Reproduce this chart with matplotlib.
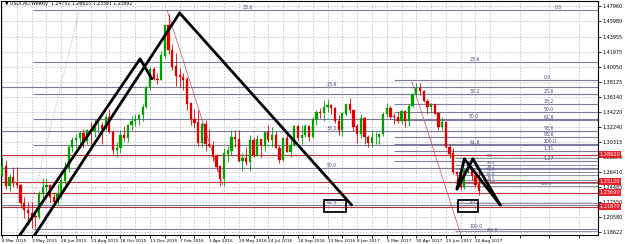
import numpy as np
import matplotlib
matplotlib.use("Agg")
import matplotlib.pyplot as plt

# weekly USDCAD bars, first bar = week of 8 Mar 2015
opens = [1.2600, 1.2720, 1.2460, 1.2570, 1.2500, 1.2470, 1.2240, 1.2150, 1.2110, 1.2070,
         1.2060, 1.2360, 1.2440, 1.2470, 1.2310, 1.2250, 1.2370, 1.2530, 1.2690, 1.2960,
         1.3050, 1.3080, 1.3140, 1.3040, 1.3180, 1.3170, 1.3250, 1.3250, 1.3200, 1.3350,
         1.3160, 1.2930, 1.2950, 1.3120, 1.3080, 1.3250, 1.3300, 1.3330, 1.3380, 1.3480,
         1.3740, 1.3980, 1.3850, 1.3840, 1.4150, 1.4540, 1.4220, 1.4010, 1.3890, 1.3870,
         1.3840, 1.3530, 1.3330, 1.3280, 1.3020, 1.3260, 1.3000, 1.2980, 1.2840, 1.2710,
         1.2550, 1.2880, 1.2920, 1.3090, 1.3070, 1.2790, 1.2820, 1.2770, 1.3050, 1.2850,
         1.3060, 1.2980, 1.3160, 1.3050, 1.3120, 1.2950, 1.2800, 1.3080, 1.2900, 1.2990,
         1.3240, 1.3080, 1.3120, 1.3240, 1.3090, 1.3330, 1.3420, 1.3410, 1.3480, 1.3510,
         1.3470, 1.3300, 1.3190, 1.3400, 1.3520, 1.3440, 1.3230, 1.3130, 1.3340, 1.3090,
         1.3020, 1.3090, 1.3090, 1.3130, 1.3390, 1.3470, 1.3360, 1.3350, 1.3300, 1.3430,
         1.3300, 1.3500, 1.3650, 1.3730, 1.3690, 1.3560, 1.3480, 1.3520, 1.3400, 1.3220,
         1.3290, 1.2960, 1.2880, 1.2640, 1.2620, 1.2440, 1.2660, 1.2680, 1.2590, 1.2475]
highs = [1.2830, 1.2800, 1.2620, 1.2700, 1.2700, 1.2480, 1.2320, 1.2250, 1.2250, 1.2150,
         1.2390, 1.2560, 1.2560, 1.2480, 1.2380, 1.2480, 1.2570, 1.2770, 1.2990, 1.3100,
         1.3130, 1.3170, 1.3200, 1.3200, 1.3290, 1.3330, 1.3310, 1.3290, 1.3390, 1.3460,
         1.3180, 1.3030, 1.3190, 1.3240, 1.3260, 1.3370, 1.3390, 1.3400, 1.3520, 1.3760,
         1.4000, 1.4000, 1.3920, 1.4210, 1.4550, 1.4690, 1.4300, 1.4180, 1.3990, 1.3930,
         1.3880, 1.3540, 1.3460, 1.3450, 1.3290, 1.3310, 1.3200, 1.3040, 1.2870, 1.2730,
         1.2950, 1.2980, 1.3190, 1.3190, 1.3190, 1.2890, 1.2960, 1.3120, 1.3090, 1.3120,
         1.3070, 1.3170, 1.3250, 1.3220, 1.3170, 1.2990, 1.3100, 1.3150, 1.3070, 1.3250,
         1.3250, 1.3250, 1.3270, 1.3250, 1.3360, 1.3440, 1.3470, 1.3580, 1.3590, 1.3530,
         1.3480, 1.3380, 1.3420, 1.3520, 1.3600, 1.3450, 1.3260, 1.3390, 1.3350, 1.3120,
         1.3190, 1.3160, 1.3150, 1.3420, 1.3540, 1.3500, 1.3410, 1.3420, 1.3450, 1.3440,
         1.3520, 1.3660, 1.3790, 1.3790, 1.3700, 1.3590, 1.3540, 1.3530, 1.3410, 1.3360,
         1.3300, 1.3000, 1.2950, 1.2650, 1.2640, 1.2680, 1.2780, 1.2700, 1.2630, 1.2663]
lows = [1.2580, 1.2420, 1.2390, 1.2440, 1.2430, 1.2180, 1.2050, 1.1950, 1.1920, 1.1920,
        1.2030, 1.2300, 1.2340, 1.2250, 1.2190, 1.2220, 1.2300, 1.2490, 1.2640, 1.2900,
        1.2950, 1.2990, 1.2950, 1.3000, 1.3010, 1.3100, 1.3150, 1.3010, 1.3190, 1.3150,
        1.2880, 1.2830, 1.2890, 1.3040, 1.3030, 1.3180, 1.3240, 1.3250, 1.3300, 1.3470,
        1.3710, 1.3830, 1.3780, 1.3840, 1.4120, 1.4170, 1.3960, 1.3760, 1.3750, 1.3700,
        1.3450, 1.3250, 1.3210, 1.2980, 1.2970, 1.2920, 1.2960, 1.2780, 1.2650, 1.2460,
        1.2460, 1.2770, 1.2860, 1.2960, 1.2770, 1.2650, 1.2730, 1.2650, 1.2830, 1.2850,
        1.2830, 1.2920, 1.3030, 1.2960, 1.2950, 1.2760, 1.2790, 1.2900, 1.2840, 1.2980,
        1.3040, 1.3000, 1.3090, 1.3040, 1.3080, 1.3250, 1.3340, 1.3300, 1.3420, 1.3390,
        1.3280, 1.3120, 1.3110, 1.3380, 1.3410, 1.3170, 1.3020, 1.3080, 1.3010, 1.2970,
        1.2970, 1.3000, 1.3000, 1.3110, 1.3350, 1.3330, 1.3260, 1.3280, 1.3260, 1.3230,
        1.3240, 1.3480, 1.3630, 1.3640, 1.3550, 1.3390, 1.3410, 1.3390, 1.3180, 1.3180,
        1.2950, 1.2820, 1.2620, 1.2510, 1.2410, 1.2420, 1.2630, 1.2540, 1.2450, 1.2339]
closes = [1.2720, 1.2460, 1.2570, 1.2500, 1.2470, 1.2240, 1.2150, 1.2110, 1.2070, 1.2060,
          1.2360, 1.2440, 1.2470, 1.2310, 1.2250, 1.2370, 1.2530, 1.2690, 1.2960, 1.3050,
          1.3080, 1.3140, 1.3040, 1.3180, 1.3170, 1.3250, 1.3250, 1.3200, 1.3350, 1.3160,
          1.2930, 1.2950, 1.3120, 1.3080, 1.3250, 1.3300, 1.3330, 1.3380, 1.3480, 1.3740,
          1.3980, 1.3850, 1.3840, 1.4150, 1.4540, 1.4220, 1.4010, 1.3890, 1.3870, 1.3840,
          1.3530, 1.3330, 1.3280, 1.3020, 1.3260, 1.3000, 1.2980, 1.2840, 1.2710, 1.2550,
          1.2880, 1.2920, 1.3090, 1.3070, 1.2790, 1.2820, 1.2770, 1.3050, 1.2850, 1.3060,
          1.2980, 1.3160, 1.3050, 1.3120, 1.2950, 1.2800, 1.3080, 1.2900, 1.2990, 1.3240,
          1.3080, 1.3120, 1.3240, 1.3090, 1.3330, 1.3420, 1.3410, 1.3480, 1.3510, 1.3470,
          1.3300, 1.3190, 1.3400, 1.3520, 1.3440, 1.3230, 1.3130, 1.3340, 1.3090, 1.3020,
          1.3090, 1.3090, 1.3130, 1.3390, 1.3470, 1.3360, 1.3350, 1.3300, 1.3430, 1.3300,
          1.3500, 1.3650, 1.3730, 1.3690, 1.3560, 1.3480, 1.3520, 1.3400, 1.3220, 1.3290,
          1.2960, 1.2880, 1.2640, 1.2620, 1.2440, 1.2660, 1.2680, 1.2590, 1.2475, 1.2399]

date_labels = ["8 Mar 2015", "3 May 2015", "28 Jun 2015", "23 Aug 2015", "18 Oct 2015",
               "13 Dec 2015", "7 Feb 2016", "3 Apr 2016", "29 May 2016", "24 Jul 2016",
               "18 Sep 2016", "13 Nov 2016", "8 Jan 2017", "5 Mar 2017", "30 Apr 2017",
               "25 Jun 2017", "20 Aug 2017"]
date_bars = [0, 8, 16, 24, 32, 40, 48, 56, 64, 72, 80, 88, 96, 104, 112, 120, 128]

price_ticks = [1.47960, 1.45980, 1.43955, 1.41975, 1.40050, 1.38125, 1.36140, 1.34220,
               1.32240, 1.30315, 1.28390, 1.26410, 1.24485, 1.22550, 1.20580, 1.18622]

# red price lines with their axis tags
red_levels = [1.28620, 1.25120, 1.23690, 1.21870]

# fibo sets: (price, label) per level
fibo_a = [(1.4744, "0.0"), (1.4069, "23.6"), (1.3654, "38.2"), (1.3329, "50.0"),
          (1.2992, "61.8"), (1.1901, "100.0")]
fibo_b = [(1.3745, "23.6"), (1.3174, "38.2"), (1.2693, "50.0"), (1.2213, "61.8")]
fibo_c = [(1.3836, "0.0"), (1.3654, "23.6"), (1.3524, "38.2"), (1.3420, "50.0"),
          (1.3316, "61.8"), (1.3174, "78.6"), (1.3096, "88.6"), (1.3005, "100.0"),
          (1.2914, "1.31"), (1.2784, "1.27")]
fibo_d = [(1.2823, "0.0"), (1.2737, "23.6"), (1.2684, "38.2"), (1.2642, "50.0"),
          (1.2599, "61.8"), (1.2538, "78.6"), (1.2502, "88.6"), (1.2460, "100.0"),
          (1.2236, "161.8"), (1.1873, "261.8")]

# thick pattern legs (bar, price)
legs = [
    [(4.5, 1.1800), (37.3, 1.4109), (40.5, 1.3850)],
    [(8.5, 1.1800), (48, 1.4705)],
    [(48, 1.4705), (94.5, 1.2213)],
    [(123, 1.2420), (125, 1.2810)],
    [(123, 1.2420), (127.3, 1.2810)],
    [(125, 1.2810), (134.7, 1.2213)],
    [(127.3, 1.2810), (134.7, 1.2213)],
]

fig = plt.figure(figsize=(6.25, 2.44), dpi=100)
ax = fig.add_axes([0.0016, 0.037, 0.955, 0.959])
ax.set_facecolor("white")

x = np.arange(len(closes))
o = np.array(opens)
h = np.array(highs)
l = np.array(lows)
c = np.array(closes)
up = c >= o
col = np.where(up, "#00a000", "#e00000")

ax.vlines(x, l, h, colors=col, linewidth=0.6, zorder=3)
ax.bar(x, np.abs(c - o) + 0.0004, bottom=np.minimum(o, c), width=0.6,
       color=col, edgecolor=col, linewidth=0.2, zorder=4)

fib_col = "#7c7ca0"
lab_col = "#4a4a80"
for p, lab in fibo_a:
    ax.hlines(p, 8.4, 161.1, colors=fib_col, linewidth=0.8, zorder=2)
    lx = 149.5 if lab == "0.0" else 126.3
    ax.text(lx, p + 0.0012, lab, fontsize=3.3, color=lab_col, zorder=5)
ax.text(65, 1.4756, "23.6", fontsize=3.3, color=lab_col, zorder=5)
for p, lab in fibo_b:
    ax.hlines(p, -0.3, 161.1, colors=fib_col, linewidth=0.8, zorder=2)
    ax.text(87.7, p + 0.0012, lab, fontsize=3.3, color=lab_col, zorder=7)
for p, lab in fibo_c:
    ax.hlines(p, 106, 161.1, colors=fib_col, linewidth=0.8, zorder=2)
    ax.text(146.5, p + 0.0012, lab, fontsize=3.3, color=lab_col, zorder=5)
for p, lab in fibo_d:
    ax.hlines(p, 122.5, 161.1, colors=fib_col, linewidth=0.6, zorder=2)
    lx = 145.5 if lab == "100.0" else (126.0 if lab == "161.8" else 131.0)
    ax.text(lx, p + 0.0008, lab, fontsize=2.8, color=lab_col, zorder=7)

for p in red_levels:
    ax.axhline(p, color="#b83434", linewidth=0.8, zorder=2)
    ax.text(161.6, p, f"{p:.5f}", fontsize=3.6, color="white", va="center",
            ha="left", clip_on=False, zorder=8,
            bbox=dict(boxstyle="square,pad=0.2", fc="#e8202a", ec="none"))

for leg in legs:
    xs, ys = zip(*leg)
    ax.plot(xs, ys, color="black", linewidth=2.0, solid_capstyle="round", zorder=6)

# boxes round the 61.8 / 161.8 tags
for bx, bw in ((87.0, 6.0), (123.3, 5.4)):
    ax.add_patch(plt.Rectangle((bx, 1.2122), bw, 0.0156, fill=False,
                               edgecolor="black", linewidth=1.3, zorder=6))

# thin trend lines
ax.plot([5.9, 21.6], [1.1811, 1.4874], color="#d08a8a", linewidth=0.6, linestyle=":", zorder=2)
ax.plot([44.6, 59.7], [1.4744, 1.2473], color="#c05050", linewidth=0.5, zorder=2)
ax.plot([110.8, 124.3], [1.3810, 1.1785], color="#c05050", linewidth=0.5, zorder=2)

ax.set_xlim(-0.3, 161.1)
ax.set_ylim(1.18236, 1.48609)

ax.set_yticks(price_ticks)
ax.set_yticklabels([f"{p:.5f}" for p in price_ticks])
ax.yaxis.tick_right()
ax.set_xticks(date_bars)
ax.set_xticks(np.arange(4, 161, 8), minor=True)
ax.set_xticklabels(date_labels, ha="left")
ax.tick_params(axis="y", labelsize=3.5, length=2, width=0.6, pad=1, colors="black")
ax.tick_params(axis="x", labelsize=3.1, length=2, width=0.6, pad=1, colors="black")
ax.tick_params(axis="x", which="minor", length=2, width=0.6)
ax.grid(True, which="both", color="#b4b4b4", linestyle=(0, (1.5, 2)), linewidth=0.6)
for s in ax.spines.values():
    s.set_linewidth(0.8)

ax.text(0.8, 1.4825, "\u25bc USDCAD,Weekly  1.24752 1.26625 1.23391 1.23992",
        fontsize=3.3, color="black", va="center", zorder=7)

fig.savefig("out.png", dpi=100)
